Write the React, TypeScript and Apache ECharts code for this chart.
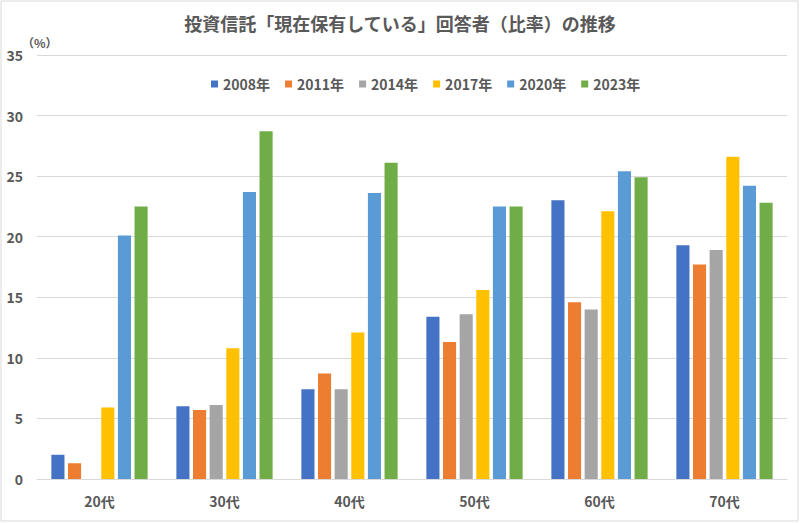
import React, { useEffect, useRef } from "react";
import * as echarts from "echarts";

const categories = ["20代", "30代", "40代", "50代", "60代", "70代"];
const seriesNames = ["2008年", "2011年", "2014年", "2017年", "2020年", "2023年"];
const colors = ["#4472C4", "#ED7D31", "#A5A5A5", "#FFC000", "#5B9BD5", "#70AD47"];
const s2008 = [2.0, 6.0, 7.4, 13.4, 23.0, 19.3];
const s2011 = [1.3, 5.7, 8.7, 11.3, 14.6, 17.7];
const s2014 = [null, 6.1, 7.4, 13.6, 14.0, 18.9];
const s2017 = [5.9, 10.8, 12.1, 15.6, 22.1, 26.6];
const s2020 = [20.1, 23.7, 23.6, 22.5, 25.4, 24.2];
const s2023 = [22.5, 28.7, 26.1, 22.5, 24.9, 22.8];
const seriesData = [s2008, s2011, s2014, s2017, s2020, s2023];

const FONT = "'Noto Sans CJK JP', 'Noto Sans', sans-serif";
const TEXT = "#595959";

export default function App() {
  const ref = useRef<HTMLDivElement>(null);
  useEffect(() => {
    if (!ref.current) return;
    const chart = echarts.init(ref.current, undefined, { renderer: "svg" });
    chart.setOption({
      animation: false,
      backgroundColor: "#ffffff",
      textStyle: { fontFamily: FONT },
      title: {
        text: "投資信託「現在保有している」回答者（比率）の推移",
        left: "center",
        top: 9,
        textStyle: { fontFamily: FONT, fontSize: 18, fontWeight: "bold", color: TEXT },
      },
      legend: {
        data: seriesNames,
        left: 206,
        top: 72,
        itemWidth: 7,
        itemHeight: 7,
        itemGap: 15,
        icon: "rect",
        textStyle: { fontFamily: FONT, fontSize: 14, fontWeight: "bold", color: TEXT },
      },
      grid: { left: 37, right: 13, top: 55, bottom: 44, containLabel: false },
      xAxis: {
        type: "category",
        data: categories,
        axisLine: { lineStyle: { color: "#D9D9D9", width: 1 } },
        axisTick: { show: false },
        axisLabel: { margin: 15, fontFamily: FONT, fontSize: 14, fontWeight: "bold", color: TEXT },
      },
      yAxis: {
        type: "value",
        min: 0,
        max: 35,
        interval: 5,
        axisLine: { show: false },
        axisTick: { show: false },
        splitLine: { lineStyle: { color: "#D9D9D9", width: 1 } },
        axisLabel: { margin: 14, fontFamily: FONT, fontSize: 14, fontWeight: "bold", color: TEXT },
      },
      graphic: [
        {
          type: "rect",
          shape: { x: 1, y: 1, width: 797, height: 520 },
          style: { fill: "none", stroke: "#D9D9D9", lineWidth: 1 },
          silent: true,
        },
        {
          type: "text",
          left: 22,
          top: 36,
          style: { text: "（%）", fontFamily: FONT, fontSize: 12, fontWeight: "bold", fill: TEXT },
        },
      ],
      series: seriesNames.map((name, i) => ({
        name,
        type: "bar",
        data: seriesData[i],
        barCategoryGap: "23%",
        barGap: "27%",
        itemStyle: { color: colors[i] },
      })),
    });
    return () => chart.dispose();
  }, []);
  return (
    <div
      ref={ref}
      style={{ position: "fixed", left: 0, top: 0, width: 800, height: 523 }}
    />
  );
}
